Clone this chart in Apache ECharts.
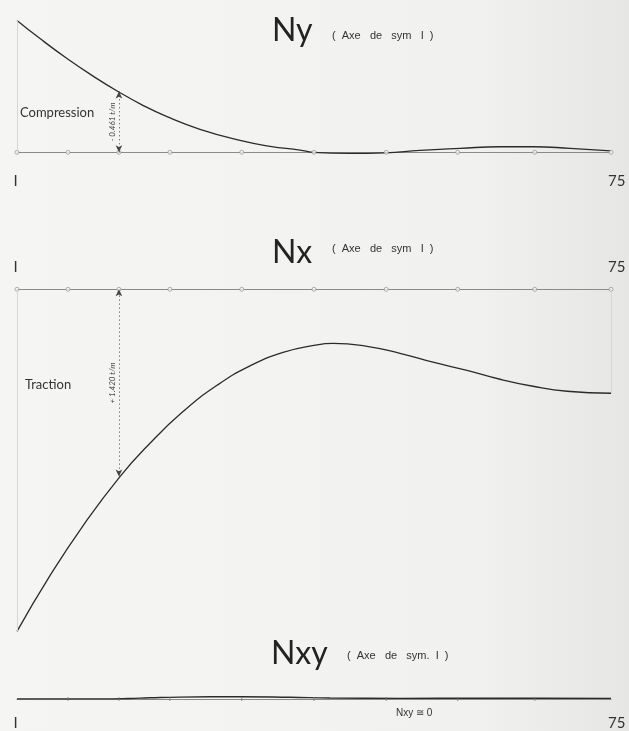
<!DOCTYPE html>
<html><head><meta charset="utf-8">
<script src="https://cdn.jsdelivr.net/npm/echarts@6/dist/echarts.min.js"></script>
<style>html,body{margin:0;padding:0;}#c{width:629px;height:731px;}</style>
</head><body><div id="c"></div>
<script>
// Node positions along the half-span (node 1 .. node 75)
const nodeX = [1, 7.35, 13.7, 20.05, 29.0, 38.0, 47.0, 55.9, 65.5, 75];
const axisTickLabels = [1, 75];

// Ny (compression, t/m)
const nyX = [1, 3.87, 7.23, 10.34, 13.58, 16.57, 19.69, 23.80, 28.78, 32.52, 36.26, 37.87, 42.48, 46.84, 51.20, 56.19, 61.17, 65.28, 69.89, 75];
const nyY = [1.00, 0.862, 0.711, 0.583, 0.461, 0.360, 0.270, 0.174, 0.090, 0.045, 0.017, 0, -0.008, -0.004, 0.015, 0.030, 0.042, 0.042, 0.030, 0.011];

// Nx (traction, t/m)
const nxX = [1, 5.11, 9.22, 13.83, 17.57, 21.68, 25.92, 30.03, 34.14, 38.37, 40.37, 44.60, 48.71, 52.82, 57.06, 61.17, 65.28, 69.52, 75];
const nxY = [2.593, 2.171, 1.793, 1.420, 1.167, 0.927, 0.728, 0.581, 0.478, 0.421, 0.410, 0.432, 0.485, 0.553, 0.614, 0.682, 0.735, 0.773, 0.788];

// Nxy (≅ 0)
const nxyX = [1, 11.34, 14.83, 17.57, 21.31, 28.78, 35.01, 39.99, 48.71, 58.68, 66.15, 75];
const nxyY = [0, 0, 0.004, 0.012, 0.020, 0.024, 0.018, 0.010, 0.006, 0.008, 0.008, 0.006];

// Dimension annotations
const nyDim = {x: 13.7, v: 0.461, text: '- 0.461 t/m'};
const nxDim = {x: 13.7, v: 1.420, text: '+ 1.420 t/m'};

const zip = (a, b) => a.map((v, i) => [v, b[i]]);
const k = 131.9;
const curveColor = '#2b2b2b';
const baseColor = '#8a8a8a';
const font = 'Lato, "Liberation Sans", sans-serif';
const subFont = '"Liberation Sans", Arial, sans-serif';

function xAxisCfg(gi, pos) {
  return {
    type: 'value', gridIndex: gi, min: 1, max: 75, position: pos,
    axisLine: {show: true, onZero: true, lineStyle: {color: baseColor, width: 1}},
    axisTick: {show: false}, splitLine: {show: false},
    axisLabel: {
      customValues: axisTickLabels, showMinLabel: true, showMaxLabel: true,
      formatter: v => (v === 1 ? 'I' : String(v)),
      color: '#333', fontSize: 15, fontFamily: font, margin: 8,
      alignMinLabel: 'center', alignMaxLabel: 'left', padding: [0, 0, 0, -3]
    }
  };
}
function yAxisCfg(gi, min, max, inverse) {
  return {type: 'value', gridIndex: gi, min, max, inverse: !!inverse, show: false};
}
function nodes(gi) {
  return {type: 'scatter', xAxisIndex: gi, yAxisIndex: gi, data: nodeX.map(x => [x, 0]),
    symbol: 'circle', symbolSize: 4, itemStyle: {color: '#f4f4f2', borderColor: '#888', borderWidth: 0.8},
    silent: true, z: 4};
}
function nodeTicks(gi) {
  return {type: 'scatter', xAxisIndex: gi, yAxisIndex: gi, data: nodeX.slice(1, -1).map(x => [x, 0]),
    symbol: 'rect', symbolSize: [1, 4], itemStyle: {color: '#777'}, silent: true, z: 4};
}
function dimLine(d, fromTop) {
  const a = {coord: [d.x, 0]}, b = {coord: [d.x, d.v]};
  return {
    symbol: ['arrow', 'arrow'], symbolSize: [5, 7], silent: true, animation: false,
    lineStyle: {color: '#444', type: [1, 3], width: 1},
    label: {show: true, position: 'middle', formatter: d.text, fontSize: 8, fontStyle: 'italic',
      color: '#444', fontFamily: font, distance: 3},
    data: [fromTop ? [b, a] : [a, b]]
  };
}
function faint(list) {
  return {symbol: 'none', silent: true, animation: false, label: {show: false},
    lineStyle: {color: '#d6d6d4', type: 'solid', width: 1},
    data: list.map(([x, v]) => [{coord: [x, 0]}, {coord: [x, v]}])};
}
const big = {fontSize: 32, fontWeight: 'normal', color: '#222', fontFamily: font};
const sub = {fontSize: 11, fontWeight: 'normal', color: '#333', fontFamily: subFont};
const note = {fontSize: 13, fontWeight: 'normal', color: '#333', fontFamily: font};
const T = (text, left, top, textStyle) => ({text, left, top, padding: 0, textStyle});

const chart = echarts.init(document.getElementById('c'), null, {renderer: 'canvas'});
chart.setOption({
  animation: false,
  backgroundColor: {type: 'linear', x: 0, y: 0, x2: 1, y2: 0,
    colorStops: [{offset: 0, color: '#f5f5f3'}, {offset: 0.75, color: '#f1f1ef'}, {offset: 1, color: '#e6e6e4'}]},
  title: [
    T('Ny', 272, 15, big),
    T('(  Axe   de   sym   I  )', 332, 30, sub),
    T('Nx', 272, 237, big),
    T('(  Axe   de   sym   I  )', 332, 243, sub),
    T('Nxy', 271, 638, big),
    T('(  Axe   de   sym.  I  )', 347, 650, sub),
    T('Compression', 20, 106, note),
    T('Traction', 25, 378, note),
    T('Nxy ≅ 0', 396, 708, {fontSize: 10, fontWeight: 'normal', color: '#333', fontFamily: subFont})
  ],
  grid: [
    {left: 17, width: 594, top: 152.3 - 1.05 * k, height: 1.15 * k},
    {left: 17, width: 594, top: 289.3 - 0.05 * k, height: 2.7 * k},
    {left: 17, width: 594, top: 703 - 0.1 * k, height: 0.2 * k}
  ],
  xAxis: [xAxisCfg(0, 'bottom'), xAxisCfg(1, 'top'), xAxisCfg(2, 'bottom')],
  yAxis: [yAxisCfg(0, -0.1, 1.05), yAxisCfg(1, -0.05, 2.65, true), yAxisCfg(2, -0.1, 0.1)],
  series: [
    {type: 'line', xAxisIndex: 0, yAxisIndex: 0, data: zip(nyX, nyY), smooth: 0.5, showSymbol: false,
      lineStyle: {color: curveColor, width: 1.3}, z: 3,
      markLine: dimLine(nyDim, false)},
    {type: 'line', xAxisIndex: 0, yAxisIndex: 0, data: [], markLine: faint([[nyX[0], nyY[0]]])},
    nodes(0),
    {type: 'line', xAxisIndex: 1, yAxisIndex: 1, data: zip(nxX, nxY), smooth: 0.5, showSymbol: false,
      lineStyle: {color: curveColor, width: 1.3}, z: 3,
      markLine: dimLine(nxDim, true)},
    {type: 'line', xAxisIndex: 1, yAxisIndex: 1, data: [],
      markLine: faint([[nxX[0], nxY[0]], [nxX[nxX.length - 1], nxY[nxY.length - 1]]])},
    nodes(1),
    {type: 'line', xAxisIndex: 2, yAxisIndex: 2, data: zip(nxyX, nxyY), smooth: 0.5, showSymbol: false,
      lineStyle: {color: curveColor, width: 1.4}, z: 3},
    nodeTicks(2)
  ]
});
</script></body></html>
